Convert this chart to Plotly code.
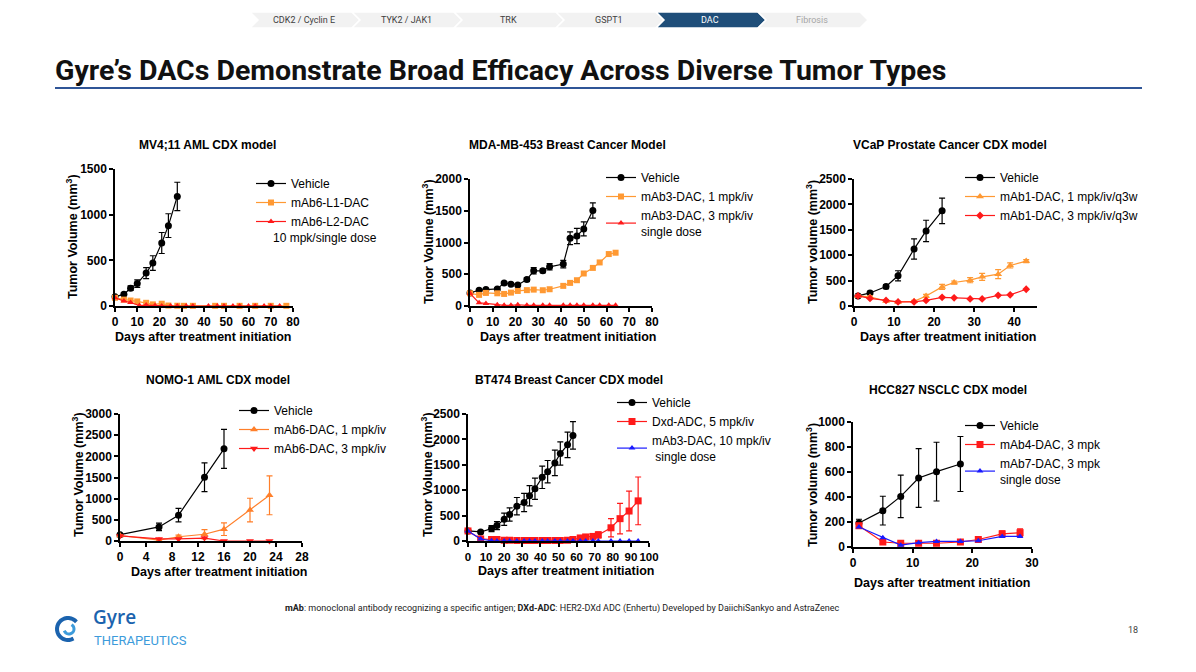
import numpy as np
import plotly.graph_objects as go

# ---- data ----
# MV4;11 AML CDX
mv_veh_day = [0, 4, 7, 10, 14, 17, 21, 24, 28]
mv_veh_vol = [100, 130, 195, 245, 360, 470, 690, 880, 1200]
mv_veh_err = [10, 15, 25, 40, 60, 80, 115, 130, 155]
mv_l1_day = [0, 4, 7, 10, 14, 17, 21, 24, 28, 31, 35, 45, 49, 56, 63, 70, 77]
mv_l1_vol = [90, 70, 60, 50, 35, 18, 25, 5, 3, 2, 2, 2, 2, 2, 2, 2, 2]
mv_l2_day = [0, 4, 7, 11, 14, 18, 21, 25, 28, 32, 35, 42, 46, 49, 53, 56, 60, 63, 67, 70, 74]
mv_l2_vol = [90, 55, 38, 5, 10, 5, 0, 0, 0, 0, 0, 0, 0, 0, 0, 0, 0, 0, 0, 0, 0]

# MDA-MB-453 breast
mda_day = [0, 4, 7, 12, 15, 18, 21, 25, 28, 32, 35, 41, 44, 47, 50, 54]
mda_veh_vol = [206, 248, 258, 269, 364, 343, 332, 417, 554, 554, 617, 660, 1066, 1103, 1214, 1504]
mda_veh_err = [15, 15, 15, 20, 20, 20, 20, 30, 50, 30, 50, 60, 100, 120, 110, 120]
mda_1_day = [0, 4, 7, 12, 15, 18, 21, 25, 28, 32, 35, 41, 44, 47, 50, 54, 57, 61, 64]
mda_1_vol = [200, 175, 206, 200, 190, 211, 237, 250, 258, 248, 264, 317, 364, 406, 512, 600, 686, 818, 839]
mda_3_vol = [200, 50, 40, 20, 10, 10, 20, 10, 10, 10, 10, 10, 10, 10, 10, 10, 10, 10, 10]

# VCaP prostate CDX
vcap_veh_day = [1, 4, 8, 11, 15, 18, 22]
vcap_veh_vol = [198, 257, 383, 594, 1121, 1478, 1873]
vcap_veh_err = [30, 30, 40, 100, 200, 210, 250]
vcap_day = [1, 4, 8, 11, 15, 18, 22, 25, 29, 32, 36, 39, 43]
vcap_1_vol = [198, 178, 99, 79, 92, 198, 376, 462, 508, 574, 627, 798, 884]
vcap_1_err = [20, 20, 20, 15, 20, 30, 50, 30, 50, 70, 90, 50, 30]
vcap_3_vol = [198, 150, 110, 80, 80, 110, 170, 160, 140, 140, 210, 220, 330]

# NOMO-1 AML CDX
nomo_veh_day = [0, 6, 9, 13, 16]
nomo_veh_vol = [150, 333, 610, 1504, 2177]
nomo_veh_err = [20, 90, 160, 340, 460]
nomo_day = [0, 6, 9, 13, 16, 20, 23]
nomo_1_vol = [130, 20, 100, 160, 280, 730, 1080]
nomo_1_err = [15, 15, 40, 110, 150, 280, 460]
nomo_3_vol = [120, 50, 50, 70, 0, 0, 0]

# BT474 breast CDX
bt_veh_day = [0, 7, 13, 16, 20, 23, 27, 31, 34, 37, 41, 44, 48, 51, 55, 58]
bt_veh_vol = [198, 178, 244, 303, 429, 521, 686, 759, 890, 1029, 1253, 1365, 1537, 1722, 1893, 2078]
bt_veh_err = [20, 20, 60, 80, 120, 130, 170, 180, 200, 210, 220, 220, 250, 230, 250, 270]
bt_day = [0, 7, 13, 16, 20, 23, 27, 31, 34, 37, 41, 44, 48, 51, 55, 58, 62, 65, 69, 72, 79, 84, 89, 94]
bt_dxd_vol = [198, 40, 30, 30, 15, 15, 10, 10, 10, 10, 10, 10, 10, 10, 15, 30, 60, 80, 90, 120, 260, 440, 590, 790]
bt_dxd_err = [10, 10, 10, 10, 5, 5, 5, 5, 5, 5, 5, 5, 5, 5, 10, 15, 20, 30, 40, 60, 180, 300, 390, 470]
bt_dac_vol = [198, 40, 5, 0, 0, 0, 0, 0, 0, 0, 0, 0, 0, 0, 0, 0, 0, 0, 0, 0, 0, 0, 0, 0]

# HCC827 NSCLC CDX
hcc_veh_day = [1, 5, 8, 11, 14, 18]
hcc_veh_vol = [192, 291, 405, 552, 603, 664]
hcc_veh_err = [30, 115, 170, 235, 235, 220]
hcc_day = [1, 5, 8, 11, 14, 18, 21, 25, 28]
hcc_4_vol = [170, 40, 30, 30, 30, 40, 60, 105, 115]
hcc_4_err = [20, 10, 10, 10, 10, 10, 15, 25, 30]
hcc_7_vol = [160, 75, 15, 35, 45, 45, 50, 85, 85]

W, H = 1196, 672
OFF = 8  # page body margin in the browser
FONT = "Arial, Liberation Sans, sans-serif"
ORANGE = "#FF9933"
ORANGE2 = "#FF7F2A"
RED = "#FF1A1A"
BLUE = "#1A1AFF"


def px(x):
    return (x - OFF) / W


def py(y):
    return 1 - (y - OFF) / H


fig = go.Figure()


def series(n, x, y, name, color, symbol, leg, err=None, size=7):
    fig.add_trace(go.Scatter(
        x=x, y=y, name=name, mode="lines+markers",
        xaxis="x" + ("" if n == 1 else str(n)),
        yaxis="y" + ("" if n == 1 else str(n)),
        legend=leg,
        line=dict(color=color, width=1.2),
        marker=dict(color=color, symbol=symbol, size=size),
        error_y=None if err is None else dict(type="data", array=err, color=color,
                                              thickness=1.2, width=3),
        cliponaxis=False,
    ))


# panel 1
series(1, mv_veh_day, mv_veh_vol, "Vehicle", "black", "circle", "legend", mv_veh_err)
series(1, mv_l1_day, mv_l1_vol, "mAb6-L1-DAC", ORANGE, "square", "legend", size=6)
series(1, mv_l2_day, mv_l2_vol, "mAb6-L2-DAC", RED, "triangle-up", "legend", size=6)
# panel 2
series(2, mda_day, mda_veh_vol, "Vehicle", "black", "circle", "legend2", mda_veh_err)
series(2, mda_1_day, mda_1_vol, "mAb3-DAC, 1 mpk/iv", ORANGE, "square", "legend2", size=6)
series(2, mda_1_day, mda_3_vol, "mAb3-DAC, 3 mpk/iv<br>single dose", RED, "triangle-up", "legend2", size=6)
# panel 3
series(3, vcap_veh_day, vcap_veh_vol, "Vehicle", "black", "circle", "legend3", vcap_veh_err)
series(3, vcap_day, vcap_1_vol, "mAb1-DAC, 1 mpk/iv/q3w", ORANGE, "triangle-up", "legend3", vcap_1_err)
series(3, vcap_day, vcap_3_vol, "mAb1-DAC, 3 mpk/iv/q3w", RED, "diamond", "legend3", size=6)
# panel 4
series(4, nomo_veh_day, nomo_veh_vol, "Vehicle", "black", "circle", "legend4", nomo_veh_err)
series(4, nomo_day, nomo_1_vol, "mAb6-DAC, 1 mpk/iv", ORANGE2, "triangle-up", "legend4", nomo_1_err)
series(4, nomo_day, nomo_3_vol, "mAb6-DAC, 3 mpk/iv", RED, "triangle-down", "legend4")
# panel 5
series(5, bt_veh_day, bt_veh_vol, "Vehicle", "black", "circle", "legend5", bt_veh_err)
series(5, bt_day, bt_dxd_vol, "Dxd-ADC, 5 mpk/iv", RED, "square", "legend5", bt_dxd_err)
series(5, bt_day, bt_dac_vol, "mAb3-DAC, 10 mpk/iv<br> single dose", BLUE, "triangle-up", "legend5", size=6)
# panel 6
series(6, hcc_veh_day, hcc_veh_vol, "Vehicle", "black", "circle", "legend6", hcc_veh_err)
series(6, hcc_day, hcc_4_vol, "mAb4-DAC, 3 mpk", RED, "square", "legend6", hcc_4_err)
series(6, hcc_day, hcc_7_vol, "mAb7-DAC, 3 mpk<br>single dose", BLUE, "triangle-up", "legend6", size=6)

# panel geometry: (x0px, x1px, ytop px, ybottom px, xrange, yrange, xdtick, ydtick)
panels = [
    (115, 293, 169, 306, [0, 80], [0, 1500], 10, 500),
    (470, 652, 179, 306, [0, 80], [0, 2000], 10, 500),
    (854, 1037, 179, 306, [0, 45.7], [0, 2500], 10, 500),
    (120, 302, 414, 541, [0, 28], [0, 3000], 4, 500),
    (468, 649, 414, 541, [0, 100], [0, 2500], 10, 500),
    (853, 1032, 422, 547, [0, 30], [0, 1000], 10, 200),
]
titles = [
    ("MV4;11 AML CDX model", 207, 145),
    ("MDA-MB-453 Breast Cancer Model", 567, 145),
    ("VCaP Prostate Cancer CDX model", 950, 145),
    ("NOMO-1 AML CDX model", 218, 380),
    ("BT474 Breast Cancer CDX model", 569, 380),
    ("HCC827 NSCLC CDX model", 948, 390),
]
xtitles = [(203, 337), (568, 337), (948, 337), (219, 572), (566, 571), (942, 583)]
ytitles = [
    ("Tumor Volume (mm<sup>3</sup>)", 72, 237),
    ("Tumor Volume (mm<sup>3</sup>)", 428, 242),
    ("Tumor volume (mm<sup>3</sup>)", 812, 242),
    ("Tumor Volume (mm<sup>3</sup>)", 78, 475),
    ("Tumor Volume (mm<sup>3</sup>)", 427, 475),
    ("Tumor volume (mm<sup>3</sup>)", 812, 485),
]
legend_pos = [(251, 169), (601, 163), (960, 163), (234, 396), (612, 388), (960, 411)]

layout = dict(
    width=W, height=H, margin=dict(l=0, r=0, t=0, b=0, autoexpand=False),
    paper_bgcolor="white", plot_bgcolor="white",
    font=dict(family=FONT, color="black", size=12),
    annotations=[], shapes=[],
)


def ann(text, x, y, size, family=FONT, color="black", xanchor="center", angle=0, weight="normal"):
    layout["annotations"].append(dict(
        text=text, x=px(x), y=py(y), xref="paper", yref="paper",
        xanchor=xanchor, yanchor="middle", showarrow=False, textangle=angle,
        font=dict(family=family, size=size, color=color, weight=weight)))


tickfont = dict(family=FONT, size=12, color="black", weight="bold")
for i, (x0, x1, yt, yb, xr, yr, xd, yd) in enumerate(panels):
    n = i + 1
    sfx = "" if n == 1 else str(n)
    layout["xaxis" + sfx] = dict(
        domain=[px(x0), px(x1)], range=xr, dtick=xd, tick0=0,
        anchor="y" + sfx, showgrid=False, zeroline=False,
        showline=True, linecolor="black", linewidth=1.5,
        ticks="outside", ticklen=4, tickwidth=1.5, tickcolor="black",
        tickfont=tickfont, tickangle=0, automargin=False, fixedrange=True,
    )
    layout["yaxis" + sfx] = dict(
        domain=[py(yb), py(yt)], range=yr, dtick=yd, tick0=0,
        anchor="x" + sfx, showgrid=False, zeroline=False,
        showline=True, linecolor="black", linewidth=1.5,
        ticks="outside", ticklen=4, tickwidth=1.5, tickcolor="black",
        tickfont=tickfont, automargin=False, fixedrange=True,
    )
    lx, ly = legend_pos[i]
    layout["legend" + sfx] = dict(
        x=px(lx), y=py(ly), xanchor="left", yanchor="top",
        bgcolor="rgba(0,0,0,0)", borderwidth=0,
        font=dict(family=FONT, size=12, color="black"),
        itemwidth=30, tracegroupgap=0,
    )
    t, tx, ty = titles[i]
    ann("<b>" + t + "</b>", tx, ty, 12)
    tx, ty = xtitles[i]
    ann("<b>Days after treatment initiation</b>", tx, ty, 12.5)
    t, tx, ty = ytitles[i]
    ann("<b>" + t + "</b>", tx, ty, 12.5, angle=-90)

layout["xaxis5"]["tickfont"] = dict(family=FONT, size=11.5, color="black", weight="bold")

ann("10 mpk/single dose", 271, 238, 12, xanchor="left")

# ---- slide decoration ----
tabs = ["CDK2 / Cyclin E", "TYK2 / JAK1", "TRK", "GSPT1", "DAC", "Fibrosis"]
tab_edges = [250, 352, 454, 556, 656, 758, 860]
for k, name in enumerate(tabs):
    a, b = tab_edges[k], tab_edges[k + 1]
    t0, t1, m = 12, 28, 20
    path = "M {},{} L {},{} L {},{} L {},{} L {},{} L {},{} Z".format(
        px(a), py(t0), px(b), py(t0), px(b + 8), py(m), px(b), py(t1), px(a), py(t1), px(a + 8), py(m))
    active = name == "DAC"
    layout["shapes"].append(dict(
        type="path", path=path, xref="paper", yref="paper",
        fillcolor="#1F4E79" if active else "#F2F2F2",
        line=dict(color="white", width=1.5), layer="below"))
    ann(name, (a + b) / 2 + 3, m, 9, family="Roboto, sans-serif",
        color="white" if active else ("#A6A6A6" if name == "Fibrosis" else "#404040"))

ann("<b>Gyre’s DACs Demonstrate Broad Efficacy Across Diverse Tumor Types</b>", 53, 70, 28.5,
    family="Roboto, sans-serif", color="#111111", xanchor="left")
layout["shapes"].append(dict(
    type="line", x0=px(55), x1=px(1142), y0=py(88), y1=py(88), xref="paper", yref="paper",
    line=dict(color="#2F5597", width=2)))

ann("<b>mAb</b>: monoclonal antibody recognizing a specific antigen; <b>DXd-ADC</b>: "
    "HER2-DXd ADC (Enhertu) Developed by DaiichiSankyo and AstraZenec",
    283, 608, 9, family="Roboto, sans-serif", color="#222222", xanchor="left")
ann("18", 1140, 630, 9, family="Roboto, sans-serif", color="#404040", xanchor="right")

# logo
ann("Gyre", 91, 617, 19, family="Open Sans, sans-serif", color="#1B63AE", xanchor="left", weight=600)
ann("THERAPEUTICS", 92, 640, 13, family="Roboto, sans-serif", color="#3C9BDB", xanchor="left")


def arc(cx, cy, r, a0, a1, steps=24):
    t = np.linspace(np.radians(a0), np.radians(a1), steps)
    pts = ["{},{}".format(px(cx + r * np.cos(v)), py(cy - r * np.sin(v))) for v in t]
    return "M " + " L ".join(pts)


layout["shapes"].append(dict(type="path", path=arc(68, 629, 11, 40, 300), xref="paper", yref="paper",
                             line=dict(color="#1B63AE", width=4)))
layout["shapes"].append(dict(type="path", path=arc(69, 629, 5, 200, 420), xref="paper", yref="paper",
                             line=dict(color="#3C9BDB", width=3)))

fig.update_layout(**layout)
fig.write_html("out.html")
